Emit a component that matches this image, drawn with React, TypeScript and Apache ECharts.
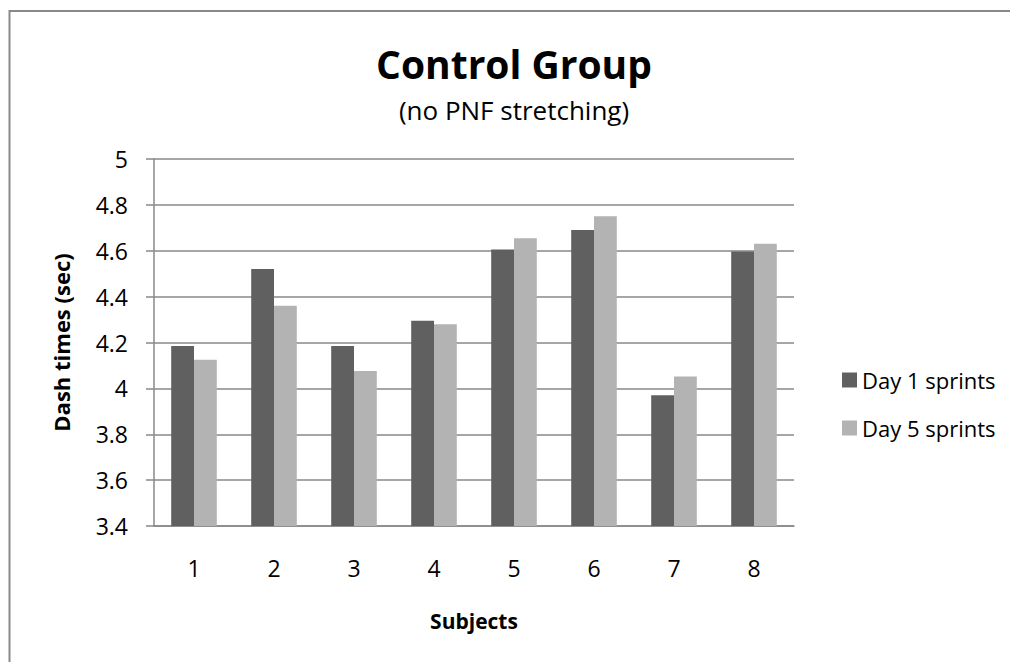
import React, { useEffect, useRef } from "react";
import * as echarts from "echarts";

const categories = ["1", "2", "3", "4", "5", "6", "7", "8"];
const day1 = [4.185, 4.52, 4.185, 4.295, 4.605, 4.69, 3.97, 4.597];
const day5 = [4.125, 4.36, 4.076, 4.28, 4.654, 4.75, 4.052, 4.63];
const seriesNames = ["Day 1 sprints", "Day 5 sprints"];
const yMin = 3.4;
const yMax = 5;
const yStep = 0.2;

const FONT = "'Open Sans', 'Noto Sans', sans-serif";

export default function App() {
  const ref = useRef<HTMLDivElement>(null);
  useEffect(() => {
    if (!ref.current) return;
    document.documentElement.style.overflow = "hidden";
    document.body.style.overflow = "hidden";
    const chart = echarts.init(ref.current, undefined, { renderer: "svg" });
    chart.setOption({
      animation: false,
      backgroundColor: "#ffffff",
      textStyle: { fontFamily: FONT },
      graphic: [
        {
          type: "polyline",
          shape: {
            points: [
              [9.5, 700],
              [9.5, 11],
              [1100, 11],
            ],
          },
          style: { fill: "none", stroke: "#898989", lineWidth: 2 },
          silent: true,
        },
        {
          type: "text",
          x: 514,
          y: 63,
          style: {
            text: "Control Group",
            fontFamily: FONT,
            fontWeight: "bold",
            fontSize: 39,
            fill: "#000",
            textAlign: "center",
            textVerticalAlign: "middle",
          },
        },
        {
          type: "text",
          x: 514,
          y: 110,
          style: {
            text: "(no PNF stretching)",
            fontFamily: FONT,
            fontSize: 26,
            fill: "#000",
            textAlign: "center",
            textVerticalAlign: "middle",
          },
        },
      ],
      legend: {
        orient: "vertical",
        left: 837,
        top: 364,
        itemWidth: 15,
        itemHeight: 15,
        itemGap: 26,
        icon: "rect",
        data: seriesNames,
        textStyle: { fontFamily: FONT, fontSize: 22, lineHeight: 22, color: "#000" },
      },
      grid: { left: 154, right: 216, top: 159, bottom: 136 },
      xAxis: {
        type: "category",
        data: categories,
        name: "Subjects",
        nameLocation: "middle",
        nameGap: 84,
        nameTextStyle: { fontFamily: FONT, fontWeight: "bold", fontSize: 21, color: "#000" },
        axisLine: { show: true, lineStyle: { color: "#888", width: 1.5 } },
        axisTick: { show: false },
        axisLabel: { margin: 30, fontFamily: FONT, fontSize: 23, color: "#000" },
      },
      yAxis: {
        type: "value",
        min: yMin,
        max: yMax,
        interval: yStep,
        name: "Dash times (sec)",
        nameLocation: "middle",
        nameGap: 82,
        nameTextStyle: { fontFamily: FONT, fontWeight: "bold", fontSize: 22, color: "#000" },
        axisLine: { show: true, lineStyle: { color: "#888", width: 1.5 } },
        axisTick: { show: true, length: 8, lineStyle: { color: "#888", width: 1.5 } },
        axisLabel: {
          margin: 26,
          fontFamily: FONT,
          fontSize: 23,
          color: "#000",
          formatter: (v: number) => String(Math.round(v * 10) / 10),
        },
        splitLine: { show: true, lineStyle: { color: "#888", width: 1.5 } },
      },
      series: [
        {
          name: seriesNames[0],
          type: "bar",
          data: day1,
          itemStyle: { color: "#606060" },
          barGap: "0%",
          barCategoryGap: "43%",
        },
        {
          name: seriesNames[1],
          type: "bar",
          data: day5,
          itemStyle: { color: "#b3b3b3" },
          barGap: "0%",
          barCategoryGap: "43%",
        },
      ],
    });
    return () => chart.dispose();
  }, []);
  return (
    <div
      ref={ref}
      style={{ position: "fixed", left: 0, top: 0, width: 1010, height: 662 }}
    />
  );
}
